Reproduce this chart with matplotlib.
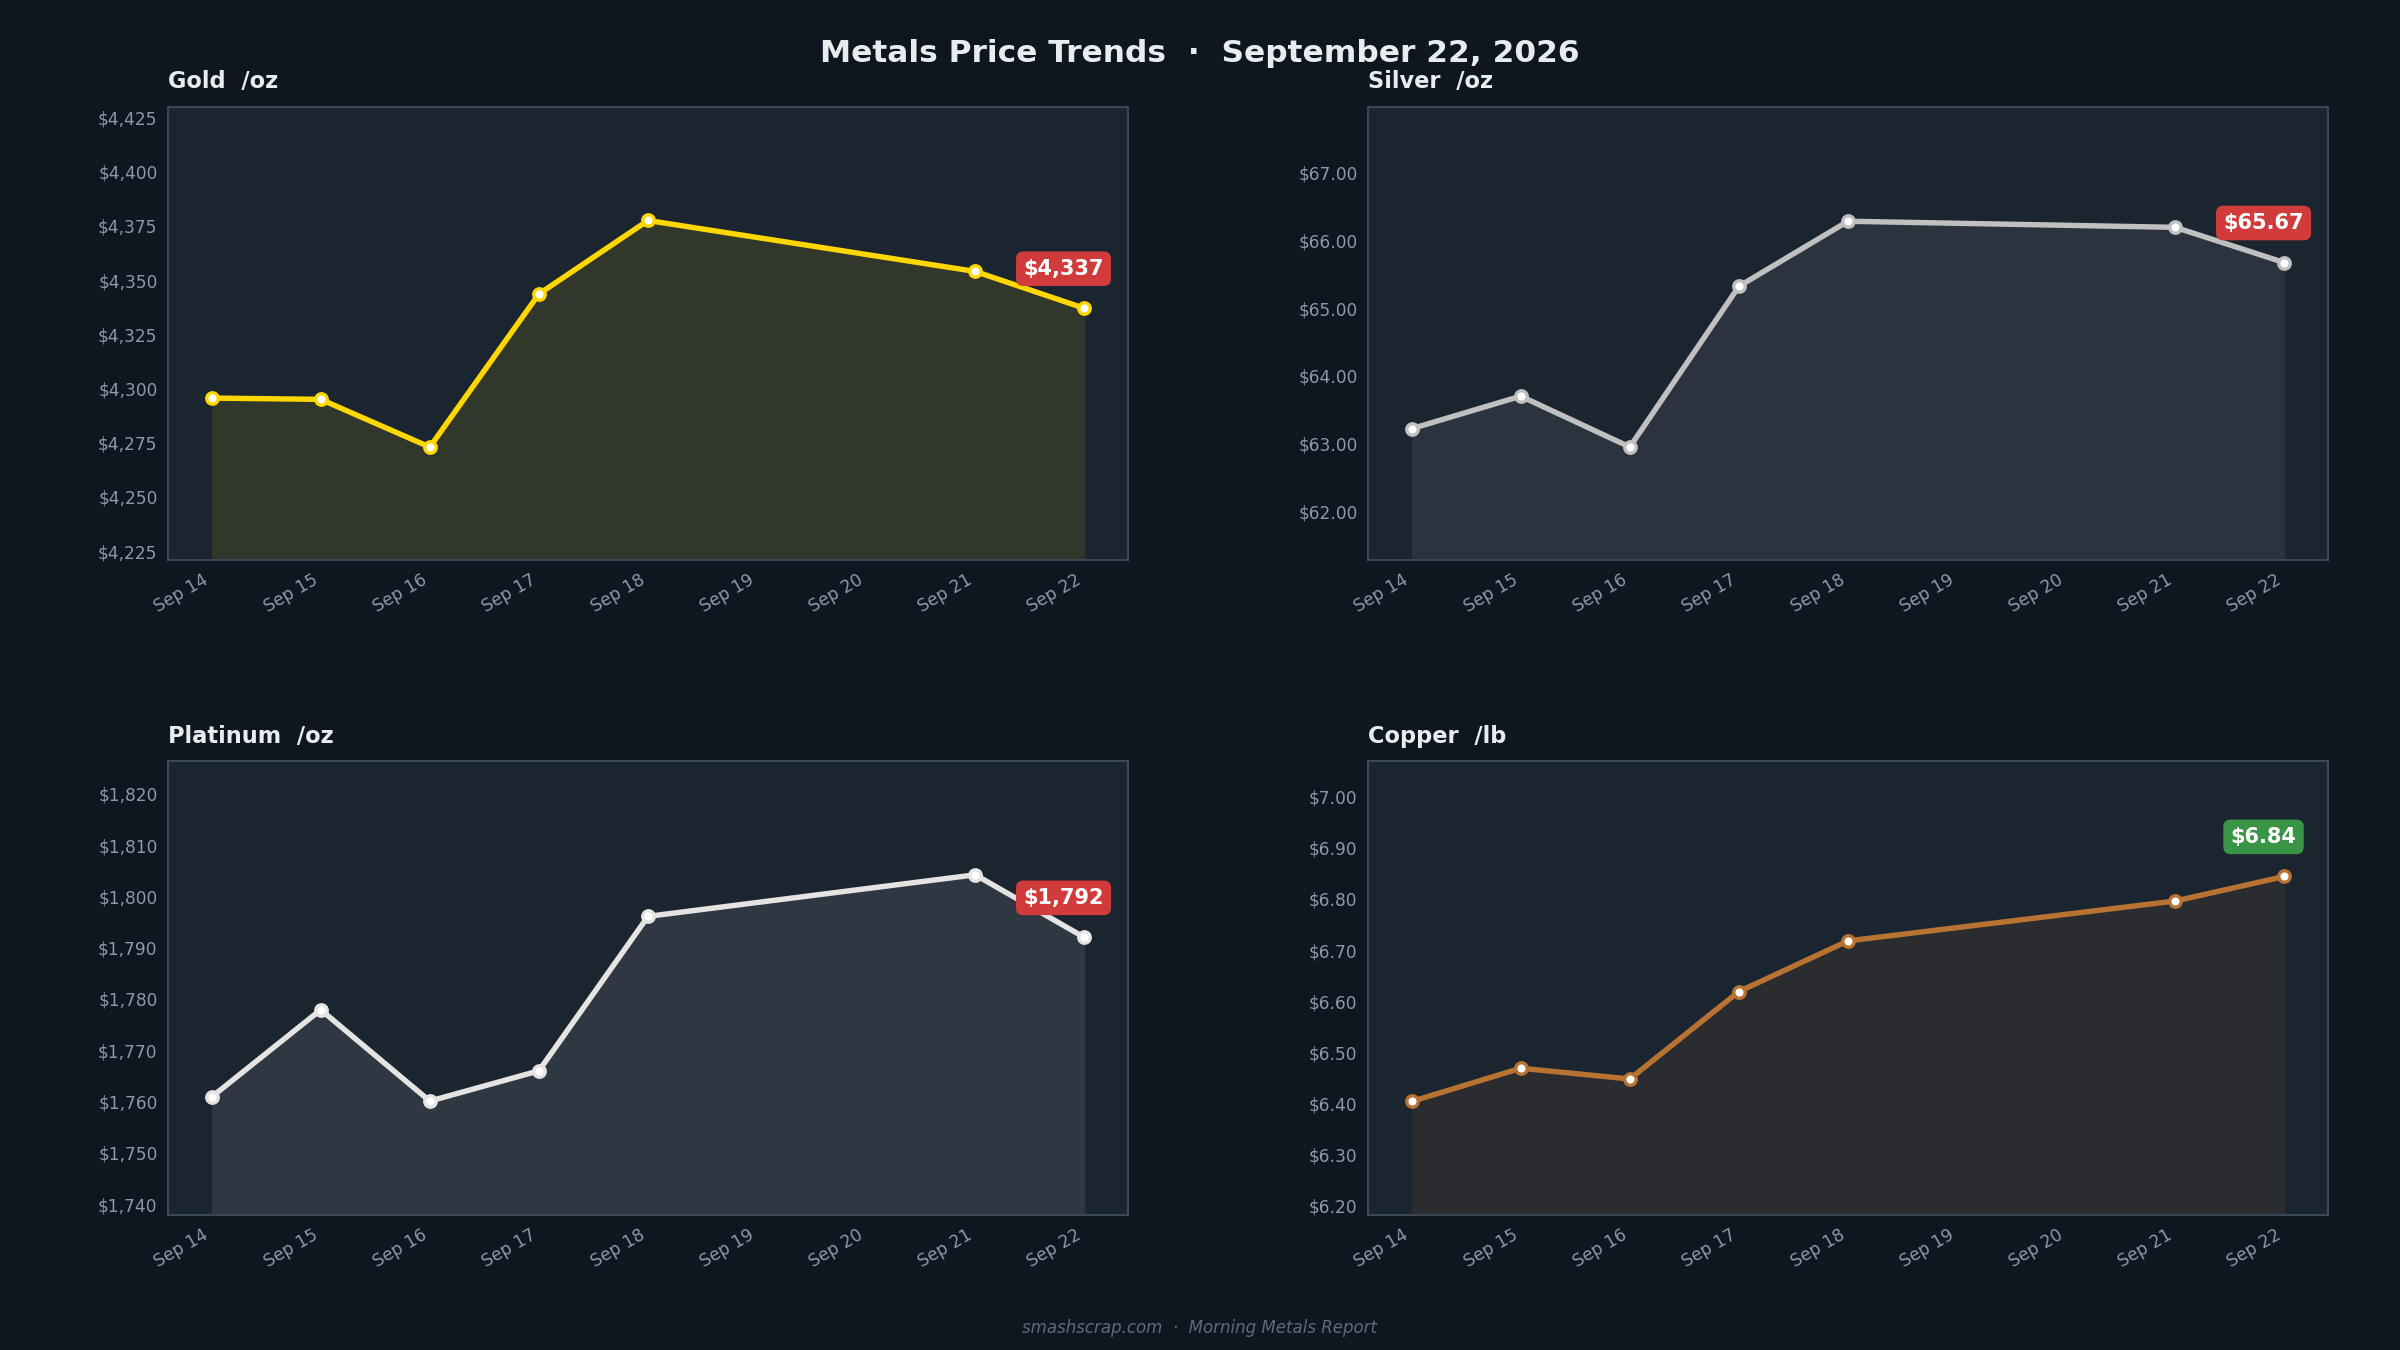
#!/usr/bin/env python3
"""Metals price trends: 2x2 panel of daily closes with the latest value tagged."""

from datetime import date

import matplotlib

matplotlib.use("Agg")
import matplotlib.dates as mdates
import matplotlib.pyplot as plt
from matplotlib.ticker import FuncFormatter, MultipleLocator

# --- data -------------------------------------------------------------
dates = [date(2026, 9, d) for d in (14, 15, 16, 17, 18, 21, 22)]

gold = [4295.6, 4295.0, 4273.0, 4343.6, 4377.5, 4354.0, 4337.0]
silver = [63.22, 63.70, 62.95, 65.32, 66.28, 66.19, 65.67]
platinum = [1760.9, 1777.9, 1760.1, 1766.0, 1796.1, 1804.2, 1792.0]
copper = [6.404, 6.469, 6.448, 6.619, 6.718, 6.796, 6.844]

metal_names = ["Gold", "Silver", "Platinum", "Copper"]
units = ["/oz", "/oz", "/oz", "/lb"]
line_colors = ["#FFD700", "#C0C0C0", "#E5E4E2", "#B87333"]
price_formats = ["${:,.0f}", "${:,.2f}", "${:,.0f}", "${:,.2f}"]
y_limits = [(4220.8, 4430.0), (61.28, 67.97), (1737.9, 1826.3), (6.182, 7.069)]
y_steps = [25, 1.0, 10, 0.1]

BG = "#0e1620"
PANEL = "#1b2530"
SPINE = "#3a4652"
TICK = "#8d99a6"
TEXT = "#e8ecef"
DOWN = "#d13b3b"
UP = "#3a9446"

fig = plt.figure(figsize=(16, 9), dpi=150, facecolor=BG)

# axes boxes as figure fractions [left, bottom, width, height]
boxes = [
    [0.070, 0.585, 0.400, 0.336],
    [0.570, 0.585, 0.400, 0.336],
    [0.070, 0.100, 0.400, 0.336],
    [0.570, 0.100, 0.400, 0.336],
]

series = [gold, silver, platinum, copper]

for i, values in enumerate(series):
    ax = fig.add_axes(boxes[i])
    ax.set_facecolor(PANEL)
    color = line_colors[i]
    lo, hi = y_limits[i]

    ax.fill_between(dates, values, lo, color=color, alpha=0.10, linewidth=0)
    ax.plot(
        dates,
        values,
        color=color,
        linewidth=2.6,
        marker="o",
        markersize=5.5,
        markerfacecolor="white",
        markeredgecolor=color,
        markeredgewidth=1.6,
        zorder=3,
    )

    ax.set_ylim(lo, hi)
    ax.xaxis.set_major_locator(mdates.DayLocator())
    ax.xaxis.set_major_formatter(mdates.DateFormatter("%b %d"))
    ax.yaxis.set_major_locator(MultipleLocator(y_steps[i]))
    fmt = price_formats[i]
    ax.yaxis.set_major_formatter(FuncFormatter(lambda v, _p, f=fmt: f.format(v)))

    ax.tick_params(axis="both", colors=TICK, labelsize=8.2, length=0, pad=5)
    for lbl in ax.get_xticklabels():
        lbl.set_rotation(30)
        lbl.set_ha("right")
    for spine in ax.spines.values():
        spine.set_color(SPINE)
        spine.set_linewidth(1.0)

    ax.set_title(
        f"{metal_names[i]}  {units[i]}",
        loc="left",
        color=TEXT,
        fontsize=10.8,
        fontweight="bold",
        pad=9,
    )

    # latest-value tag, red if down on the day, green if up
    last = values[-1]
    tag_color = UP if last >= values[-2] else DOWN
    ax.annotate(
        fmt.format(last),
        xy=(dates[-1], last),
        xytext=(-10, 19),
        textcoords="offset points",
        ha="center",
        va="center",
        color="white",
        fontsize=10,
        fontweight="bold",
        bbox=dict(boxstyle="round,pad=0.35", facecolor=tag_color, edgecolor="none"),
        zorder=5,
    )

fig.text(
    0.5,
    0.960,
    "Metals Price Trends  \u00b7  September 22, 2026",
    ha="center",
    va="center",
    color=TEXT,
    fontsize=15,
    fontweight="bold",
)
fig.text(
    0.5,
    0.016,
    "smashscrap.com  \u00b7  Morning Metals Report",
    ha="center",
    va="center",
    color="#5f6b78",
    fontsize=8,
    style="italic",
)

plt.savefig("out.png", dpi=150, facecolor=BG)
plt.close()
